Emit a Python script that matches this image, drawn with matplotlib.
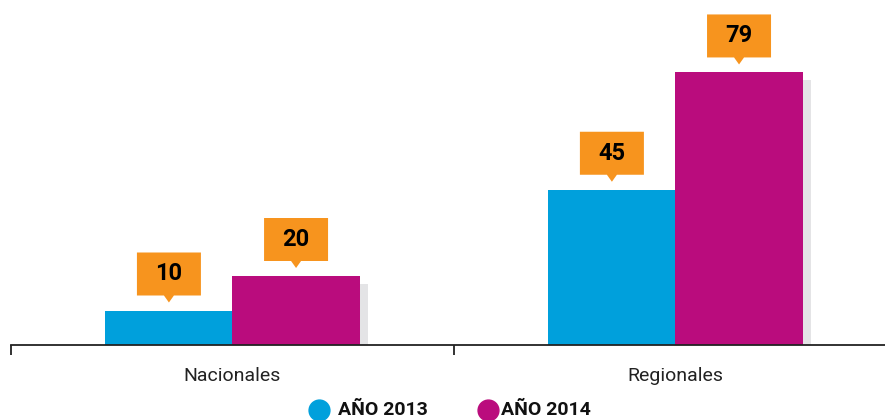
import matplotlib.pyplot as plt
from matplotlib.patches import Polygon, Rectangle
from matplotlib.lines import Line2D

# datos
categorias = ["Nacionales", "Regionales"]
valores_2013 = [10, 45]
valores_2014 = [20, 79]
series = ["AÑO 2013", "AÑO 2014"]

AZUL = "#00A0DC"
MAGENTA = "#BA0C7D"
NARANJA = "#F7941E"
SOMBRA = "#E4E4E6"

plt.rcParams["font.family"] = ["Roboto", "DejaVu Sans"]

fig = plt.figure(figsize=(8.85, 4.2), dpi=100)
ax = fig.add_axes([11 / 885, 75 / 420, 1 - 11 / 885, 345 / 420])

ancho = 0.287
# conversión pixel -> datos
px_x = 1 / 443
px_y = 100 / 345

for i, (v13, v14) in enumerate(zip(valores_2013, valores_2014)):
    # sombra detrás de la barra 2014
    ax.add_patch(Rectangle((i + 8 * px_x, 0), ancho, v14 - 8 * px_y,
                           color=SOMBRA, zorder=1, lw=0))
    ax.bar(i - ancho / 2, v13, width=ancho, color=AZUL, zorder=2, lw=0)
    ax.bar(i + ancho / 2, v14, width=ancho, color=MAGENTA, zorder=2, lw=0)

    # globos con el valor
    for xc, v in ((i - ancho / 2, v13), (i + ancho / 2, v14)):
        punta = v + 8 * px_y
        base = punta + 7 * px_y
        alto = 43 * px_y
        w = 32 * px_x
        pw = 5 * px_x
        caja = Polygon([(xc - w, base), (xc - pw, base), (xc, punta),
                        (xc + pw, base), (xc + w, base), (xc + w, base + alto),
                        (xc - w, base + alto)],
                       closed=True, color=NARANJA, lw=0, zorder=3)
        ax.add_patch(caja)
        ax.text(xc, base + alto / 2, str(v), ha="center", va="center",
                fontsize=17, fontweight="bold", color="black", zorder=4)

for s in ("top", "right", "left"):
    ax.spines[s].set_visible(False)
ax.spines["bottom"].set_color("#222222")
ax.spines["bottom"].set_linewidth(1.3)

ax.set_yticks([])
ax.set_xticks([0, 1])
ax.set_xticklabels(categorias, fontsize=14, color="#222222")
ax.tick_params(axis="x", which="major", length=0, pad=16)
ax.set_xticks([-0.5, 0.5, 1.5], minor=True)
ax.tick_params(axis="x", which="minor", length=7, width=1.3, color="#222222")

# límites después de los ticks (set_xticks amplía la vista)
ax.set_xlim(-0.5, 1.473)
ax.set_ylim(0, 100)

# leyenda
for xc, xt, col, lab in ((319, 338, AZUL, series[0]), (488, 501, MAGENTA, series[1])):
    fig.add_artist(Line2D([xc / 885], [10 / 420], marker="o", markersize=15,
                          color=col, lw=0, transform=fig.transFigure))
    fig.text(xt / 885, 10 / 420, lab, ha="left", va="center",
             fontsize=14, fontweight="bold", color="#111111")

fig.savefig("out.png", dpi=100)
